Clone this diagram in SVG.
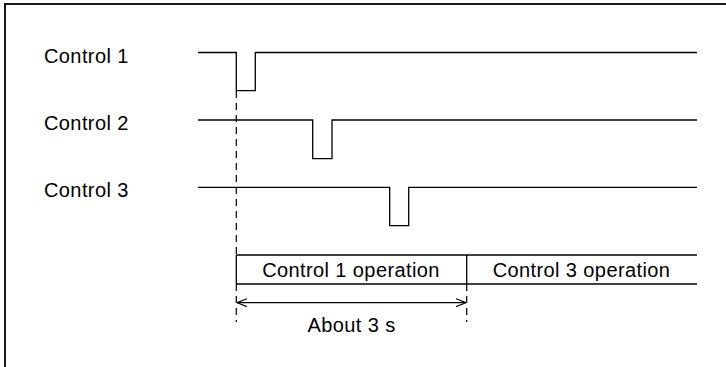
<svg xmlns="http://www.w3.org/2000/svg" width="726" height="367" viewBox="0 0 726 367">
<style>
.t{font-family:"Liberation Sans",Arial,sans-serif;font-size:20px;fill:#000;letter-spacing:0.4px}
.s{fill:none;stroke:#000;stroke-width:1.3}
.d{fill:none;stroke:#000;stroke-width:1.2;stroke-dasharray:7 5}
</style>
<defs>
<marker id="ah" viewBox="0 0 10 10" refX="10" refY="5" markerWidth="10" markerHeight="10" markerUnits="userSpaceOnUse" orient="auto-start-reverse">
<path d="M0,1 L10,5 L0,9" fill="none" stroke="#000" stroke-width="1.2"/>
</marker>
</defs>
<rect x="5" y="4" width="760" height="420" fill="#fff" stroke="#000" stroke-width="1.8"/>
<g id="control1">
<text class="t" x="44" y="63">Control 1</text>
<path class="s" d="M198,52.5 H236.3 V90.7 H255.3 V52.5 H697"/>
</g>
<g id="control2">
<text class="t" x="44" y="130">Control 2</text>
<path class="s" d="M198,120 H312.7 V158.7 H332 V120 H697"/>
</g>
<g id="control3">
<text class="t" x="44" y="197">Control 3</text>
<path class="s" d="M198,187.3 H389.7 V225.7 H408.7 V187.3 H697"/>
</g>
<g id="op1">
<text class="t" x="351" y="277" text-anchor="middle">Control 1 operation</text>
</g>
<g id="op3">
<text class="t" x="581.5" y="277" text-anchor="middle">Control 3 operation</text>
</g>
<g id="connectors">
<path class="d" d="M236.3,91 V255"/>
<path class="d" d="M236.3,284 V322"/>
<path class="d" d="M466.7,284 V322"/>
<path class="s" d="M236.3,255 H697 M236.3,284 H697 M236.3,255 V284 M466.7,255 V284"/>
<path class="s" d="M237,302.7 H466" marker-start="url(#ah)" marker-end="url(#ah)"/>
<text class="t" x="351.5" y="332" text-anchor="middle">About 3 s</text>
</g>
</svg>
